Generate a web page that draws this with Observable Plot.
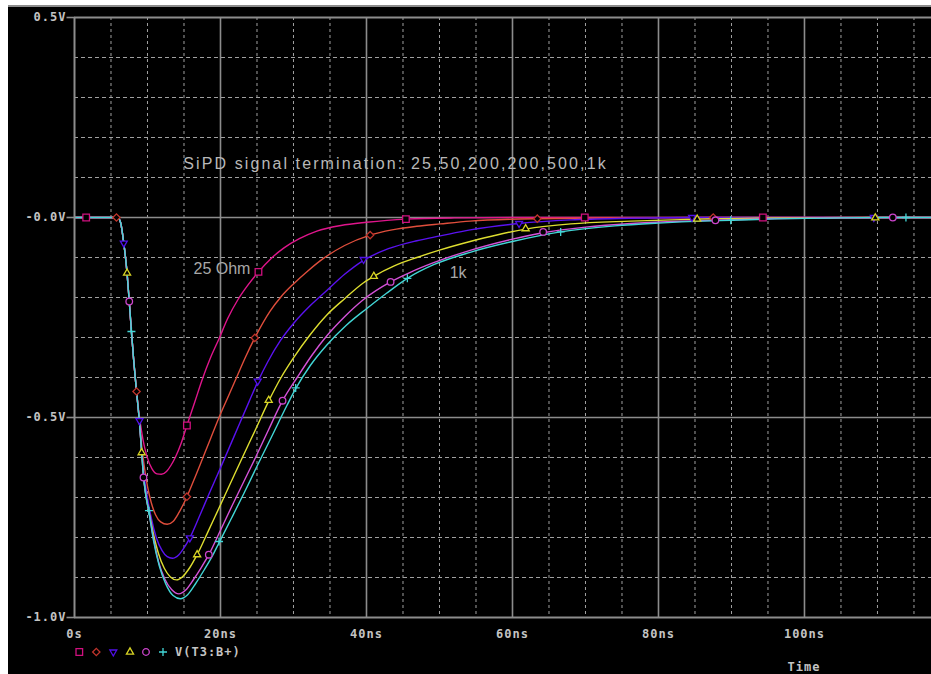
<!DOCTYPE html>
<html>
<head>
<meta charset="utf-8">
<script src="https://cdn.jsdelivr.net/npm/d3@7"></script>
<script src="https://cdn.jsdelivr.net/npm/@observablehq/plot@0.6"></script>
<style>
  html, body { margin:0; padding:0; background:#fff; width:931px; height:674px; overflow:hidden; }
  #scope { position:absolute; left:8px; top:5px; width:923px; height:669px; background:#000; border-top:2px solid #8c8c8c; box-sizing:border-box; overflow:hidden; }
  #chart { position:absolute; left:0; top:0; }
  #legend { position:absolute; left:0; top:637px; }
  #timeLabel { position:absolute; left:772px; top:654px; width:48px; text-align:center; font: bold 12px "DejaVu Sans Mono", monospace; letter-spacing:1px; color:#c4c4c4; line-height:13px; }
  g[aria-description="tick-label"] text { letter-spacing:1px; }
  g[aria-description="title"] text { letter-spacing:2.1px; }
</style>
</head>
<body>
<div id="scope">
  <div id="chart"></div>
  <div id="legend"></div>
  <div id="timeLabel">Time</div>
</div>
<script>
// ---- axis ticks / labels ----
const xTickValues = [0, 20, 40, 60, 80, 100];
const xTickLabels = ["0s", "20ns", "40ns", "60ns", "80ns", "100ns"];
const yTickValues = [0.5, 0, -0.5, -1.0];
const yTickLabels = ["0.5V", "-0.0V", "-0.5V", "-1.0V"];
const xMinorGrid = [5, 10, 15, 25, 30, 35, 45, 50, 55, 65, 70, 75, 85, 90, 95, 105, 110, 115];
const xMajorGrid = [20, 40, 60, 80, 100];
const yMinorGrid = [0.4, 0.3, 0.2, 0.1, -0.1, -0.2, -0.3, -0.4, -0.6, -0.7, -0.8, -0.9];
const yMajorGrid = [0, -0.5];

// ---- series (time ns, volts) ----
const seriesNames = ["25", "50", "200", "200", "500", "1k"];
const onset = [[0,0],[5.9,0],[6.3,-0.012],[6.75,-0.064],[7.2,-0.139],[7.5,-0.21],[7.8,-0.285],[8.1,-0.355],[8.5,-0.435]];
const v25 = onset.concat([[8.95,-0.505],[9.4,-0.557],[9.9,-0.596],[10.6,-0.628],[11.3,-0.641],[11.9,-0.642],[12.6,-0.635],[13.2,-0.62],[13.8,-0.60],[14.6,-0.565],[15.4,-0.52],[16.5,-0.46],[17.5,-0.405],[18.6,-0.352],[19.8,-0.303],[21.0,-0.252],[22.4,-0.205],[23.8,-0.168],[25.2,-0.136],[26.9,-0.103],[28.7,-0.076],[30.8,-0.053],[33.2,-0.034],[36.5,-0.02],[40,-0.012],[45.4,-0.004],[52,-0.001],[60,0],[117.4,0]]);
const v50 = onset.concat([[8.9,-0.512],[9.25,-0.578],[9.6,-0.628],[10.0,-0.672],[10.5,-0.712],[11.1,-0.743],[11.8,-0.761],[12.7,-0.767],[13.5,-0.76],[14.3,-0.738],[15.4,-0.698],[16.5,-0.65],[17.6,-0.60],[18.7,-0.55],[19.8,-0.50],[21.0,-0.45],[22.2,-0.40],[23.4,-0.35],[24.7,-0.301],[26.8,-0.234],[28.3,-0.198],[30.0,-0.166],[32,-0.133],[34.2,-0.101],[37,-0.07],[40.5,-0.044],[43.5,-0.031],[46.9,-0.022],[50.1,-0.016],[54.2,-0.009],[63.4,-0.003],[75,-0.001],[87.5,0],[117.4,0]]);
const v200a = onset.concat([[8.9,-0.512],[9.2,-0.585],[9.5,-0.64],[9.9,-0.69],[10.5,-0.75],[11.2,-0.80],[12.0,-0.833],[12.7,-0.848],[13.4,-0.852],[14.3,-0.843],[15.0,-0.826],[15.8,-0.801],[17.0,-0.752],[18.5,-0.688],[20.0,-0.626],[21.3,-0.571],[22.5,-0.52],[23.9,-0.461],[25.1,-0.411],[26.5,-0.36],[28.2,-0.308],[30.0,-0.265],[32.2,-0.222],[34.6,-0.182],[37,-0.142],[39.6,-0.107],[43,-0.078],[46.9,-0.058],[50.1,-0.046],[54.2,-0.031],[60.9,-0.015],[68,-0.006],[76,-0.002],[84.6,0],[117.4,0]]);
const v200b = onset.concat([[8.9,-0.512],[9.2,-0.586],[9.45,-0.645],[9.75,-0.69],[10.2,-0.735],[10.8,-0.79],[11.5,-0.84],[12.3,-0.877],[13.1,-0.898],[14.0,-0.906],[14.8,-0.898],[15.8,-0.875],[16.8,-0.843],[18.2,-0.789],[19.6,-0.734],[21.3,-0.667],[23.0,-0.60],[24.8,-0.53],[26.6,-0.459],[28.3,-0.40],[30,-0.351],[32.2,-0.295],[34.6,-0.243],[37,-0.203],[39.6,-0.163],[41.0,-0.147],[43.8,-0.121],[46.9,-0.10],[50.1,-0.081],[54.2,-0.06],[58,-0.043],[61.8,-0.029],[68,-0.016],[76.2,-0.009],[85.3,-0.004],[95,-0.001],[109.7,0],[117.4,0]]);
const v500 = onset.concat([[8.9,-0.512],[9.2,-0.586],[9.45,-0.647],[9.75,-0.692],[10.2,-0.737],[10.8,-0.80],[11.5,-0.86],[12.4,-0.905],[13.3,-0.93],[14.3,-0.941],[15.2,-0.932],[16.3,-0.905],[17.3,-0.877],[18.4,-0.843],[20.0,-0.782],[21.6,-0.72],[23.2,-0.66],[24.8,-0.60],[26.6,-0.53],[28.5,-0.458],[30.5,-0.40],[32.5,-0.345],[34.6,-0.295],[37,-0.248],[39.6,-0.205],[43.3,-0.161],[46,-0.137],[49.2,-0.113],[54.2,-0.082],[60,-0.054],[64.2,-0.038],[70,-0.024],[76.2,-0.015],[82,-0.01],[87.8,-0.007],[95,-0.003],[105,-0.001],[112.1,0],[117.4,0]]);
const v1k = onset.concat([[8.9,-0.512],[9.2,-0.586],[9.45,-0.647],[9.75,-0.692],[10.2,-0.737],[10.8,-0.805],[11.6,-0.87],[12.5,-0.916],[13.5,-0.945],[14.5,-0.953],[15.5,-0.943],[16.6,-0.915],[17.8,-0.88],[19.0,-0.842],[19.8,-0.813],[21.5,-0.752],[23.2,-0.69],[25.0,-0.622],[27.0,-0.548],[29.1,-0.47],[30.3,-0.428],[32.3,-0.37],[34.6,-0.318],[37.2,-0.27],[40,-0.228],[42.7,-0.19],[45.6,-0.152],[49.2,-0.118],[54.2,-0.087],[60,-0.06],[66.6,-0.036],[74,-0.021],[80,-0.014],[86,-0.009],[89.9,-0.007],[95,-0.004],[105,-0.001],[113.9,0],[117.4,0]]);

// ---- marker positions ----
const m25 = [[1.6,0],[15.4,-0.52],[25.2,-0.136],[45.4,-0.004],[69.9,0],[94.3,0]];
const m50 = [[5.75,0],[8.5,-0.435],[15.4,-0.698],[24.7,-0.301],[40.5,-0.044],[63.4,-0.003],[87.5,0]];
const m200a = [[6.75,-0.064],[8.9,-0.508],[15.8,-0.801],[25.1,-0.409],[39.6,-0.105],[60.9,-0.015],[84.6,0],[109.5,0]];
const m200b = [[7.2,-0.139],[9.2,-0.588],[16.8,-0.843],[26.6,-0.457],[41.0,-0.147],[61.8,-0.028],[85.3,-0.004],[109.7,-0.001]];
const m500 = [[7.5,-0.21],[9.45,-0.65],[18.4,-0.843],[28.5,-0.458],[43.3,-0.161],[64.2,-0.036],[87.8,-0.007],[112.1,0]];
const m1k = [[7.8,-0.285],[10.2,-0.733],[19.8,-0.81],[30.3,-0.426],[45.6,-0.152],[66.6,-0.036],[89.9,-0.007],[113.9,0]];

const titleText = "SiPD signal termination: 25,50,200,200,500,1k";
const note25 = "25 Ohm";
const note1k = "1k";
const legendLabel = "V(T3:B+)";

// ---- styles ----
const lineColors = ["#e0158c", "#e04e3c", "#5a12f0", "#dede30", "#d452d8", "#42d6d6"];
const markColors = ["#d0107f", "#c0342c", "#5010e8", "#d8d424", "#cc44cc", "#42d6d6"];
const markSymbols = ["square2", "diamond2", "triangle2", "triangle2", "circle", "plus"];
const markRotate = [0, 0, 180, 0, 0, 0];
const markR = [4.2, 3.3, 3.3, 3.4, 3.3, 2.7];

const lines = [v25, v50, v200a, v200b, v500, v1k];
const marks = [m25, m50, m200a, m200b, m500, m1k];

const lineMarks = lines.map((data, i) => Plot.line(data, {
  x: d => d[0], y: d => d[1], stroke: lineColors[i], strokeWidth: 1.4, curve: "monotone-x"
}));
const dotMarks = marks.map((data, i) => Plot.dot(data, {
  x: d => d[0], y: d => d[1], symbol: markSymbols[i], r: markR[i], rotate: markRotate[i],
  stroke: markColors[i], fill: markSymbols[i] === "plus" ? "none" : "#000", strokeWidth: 1.3
}));

const tickSym = { draw(ctx) { ctx.moveTo(-8, 0); ctx.lineTo(0, 0); } };
const xTicks = xTickValues.map((v, i) => ({v, label: xTickLabels[i]}));
const yTicks = yTickValues.map((v, i) => ({v, label: yTickLabels[i]}));
const axisFont = {fontFamily: "DejaVu Sans Mono", fontWeight: "bold", fontSize: 12, fill: "#c4c4c4", ariaDescription: "tick-label"};

const chart = Plot.plot({
  width: 923, height: 638,
  marginLeft: 66, marginRight: 0, marginTop: 10, marginBottom: 28,
  style: {background: "#000", overflow: "visible"},
  x: {domain: [0, 117.4], axis: null},
  y: {domain: [-1, 0.5], axis: null},
  marks: [
    Plot.ruleX(xMinorGrid, {stroke: "#a0a0a0", strokeWidth: 1, strokeDasharray: "3,3"}),
    Plot.ruleY(yMinorGrid, {stroke: "#a0a0a0", strokeWidth: 1, strokeDasharray: "4,3"}),
    Plot.ruleX(xMajorGrid, {stroke: "#8c8c8c", strokeWidth: 1.6}),
    Plot.ruleY(yMajorGrid, {stroke: "#8c8c8c", strokeWidth: 1.6}),
    ...lineMarks,
    ...dotMarks,
    Plot.ruleX([0], {stroke: "#8c8c8c", strokeWidth: 2}),
    Plot.ruleY([0.5, -1], {stroke: "#8c8c8c", strokeWidth: 2}),
    Plot.dot(yTicks, {x: 0, y: "v", symbol: tickSym, stroke: "#8c8c8c", fill: "none", strokeWidth: 1.6}),
    Plot.text(yTicks, {x: 0, y: "v", text: "label", dx: -8, textAnchor: "end", lineAnchor: "middle", ...axisFont}),
    Plot.text(xTicks, {x: "v", y: -1, text: "label", dy: 17, textAnchor: "middle", lineAnchor: "middle", ...axisFont}),
    Plot.text([titleText], {x: 14.9, y: 0.133, text: d => d, textAnchor: "start", lineAnchor: "middle", fontFamily: "Liberation Sans", fontSize: 16, fill: "#b8b8b8", ariaDescription: "title"}),
    Plot.text([note25], {x: 16.3, y: -0.128, text: d => d, textAnchor: "start", lineAnchor: "middle", fontFamily: "Liberation Sans", fontSize: 16, fill: "#a8a8a8"}),
    Plot.text([note1k], {x: 51.4, y: -0.139, text: d => d, textAnchor: "start", lineAnchor: "middle", fontFamily: "Liberation Sans", fontSize: 16, fill: "#a8a8a8"})
  ]
});
document.getElementById("chart").appendChild(chart);

// ---- legend (below the plot) ----
const symMap = {square2: d3.symbolSquare2, diamond2: d3.symbolDiamond2, triangle2: d3.symbolTriangle2, circle: d3.symbolCircle, plus: d3.symbolPlus};
const legendX = [71.3, 88.3, 105.3, 122, 138, 155];
const leg = d3.select("#legend").append("svg").attr("width", 260).attr("height", 16);
markSymbols.forEach((s, i) => {
  leg.append("path")
    .attr("d", d3.symbol(symMap[s], Math.PI * markR[i] * markR[i])())
    .attr("transform", `translate(${legendX[i]},8) rotate(${markRotate[i]})`)
    .attr("fill", "none").attr("stroke", markColors[i]).attr("stroke-width", 1.3);
});
leg.append("text").attr("x", 167).attr("y", 8).attr("dy", "0.35em")
  .attr("font-family", "DejaVu Sans Mono").attr("font-weight", "bold").attr("font-size", 12)
  .attr("letter-spacing", "1px").attr("fill", "#c4c4c4").text(legendLabel);
</script>
</body>
</html>
